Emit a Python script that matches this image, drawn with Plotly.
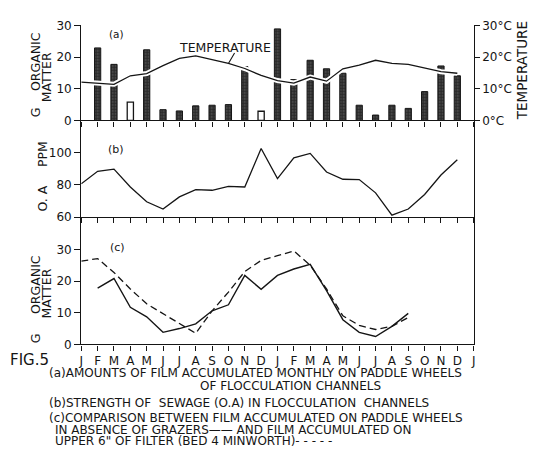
import plotly.graph_objects as go

W, H = 549, 459

# ---------------- data ----------------
months = ["J", "F", "M", "A", "M", "J", "J", "A", "S", "O", "N", "D",
          "J", "F", "M", "A", "M", "J", "J", "A", "S", "O", "N", "D", "J"]
month_idx = list(range(len(months)))

# (a) monthly film accumulated (g organic matter), Feb yr1 .. Dec yr2
bar_idx = list(range(1, 24))
bar_vals = [22.9, 17.7, 5.8, 22.3, 3.4, 3.0, 4.6, 4.8, 5.0, 17.0, 2.9,
            28.9, 12.9, 19.0, 16.3, 14.9, 4.8, 1.7, 4.8, 3.8, 9.1, 17.2, 14.1]
bar_open = [False, False, True, False, False, False, False, False, False, False, True,
            False, False, False, False, False, False, False, False, False, False, False, False]

# temperature (deg C), Jan yr1 .. Dec yr2
temp_idx = list(range(0, 24))
temps = [12.1, 11.7, 11.4, 14.1, 14.8, 17.3, 19.6, 20.4, 19.3, 18.0, 16.4, 14.2,
         12.6, 11.8, 13.7, 12.4, 16.3, 17.5, 19.0, 18.0, 17.7, 16.6, 15.4, 14.9]
temp_ticks = [0, 10, 20, 30]
temp_ticktext = ["0°C", "10°C", "20°C", "30°C"]

# (b) strength of sewage (O.A, ppm)
oa_idx = list(range(0, 24))
oa = [80.6, 88.3, 89.7, 78.6, 69.5, 65.0, 72.5, 77.0, 76.6, 79.0, 78.6, 102.4,
      83.8, 96.6, 99.4, 87.9, 83.4, 83.2, 75.0, 61.2, 65.0, 74.0, 86.0, 95.5]

# (c) paddle wheels without grazers (solid) and upper 6" of filter (dashed)
paddle_idx = list(range(1, 21))
paddle = [17.8, 20.8, 11.7, 8.7, 3.8, 5.0, 6.5, 10.6, 12.5, 21.8,
          17.4, 21.8, 23.8, 25.3, 17.0, 7.8, 3.8, 2.5, 5.7, 9.8]
filter_idx = list(range(0, 21))
filt = [26.3, 27.1, 22.7, 17.5, 12.8, 9.7, 6.5, 3.5, 10.6, 16.5, 23.0,
        26.5, 28.0, 29.5, 25.0, 17.5, 9.0, 6.0, 4.7, 5.7, 8.5]

# ---------------- figure ----------------
INK = "#151515"
FONT = "DejaVu Sans"

def px(x):
    return x / W

def py(y):
    return 1 - y / H

fig = go.Figure()

fill_x = [i for i, o in zip(bar_idx, bar_open) if not o]
fill_y = [v for v, o in zip(bar_vals, bar_open) if not o]
open_x = [i for i, o in zip(bar_idx, bar_open) if o]
open_y = [v for v, o in zip(bar_vals, bar_open) if o]

fig.add_trace(go.Bar(x=fill_x, y=fill_y, width=0.38, xaxis="x", yaxis="y",
                     marker=dict(color="#303030",
                                 line=dict(color=INK, width=1),
                                 pattern=dict(shape=".", bgcolor="#2a2a2a",
                                              fgcolor="#9a9a9a", size=3, solidity=0.25)),
                     showlegend=False))
fig.add_trace(go.Bar(x=open_x, y=open_y, width=0.38, xaxis="x", yaxis="y",
                     marker=dict(color="white", line=dict(color=INK, width=1.3)),
                     showlegend=False))
# temperature with white halo (breaks the bars where it crosses)
fig.add_trace(go.Scatter(x=temp_idx, y=temps, mode="lines", xaxis="x", yaxis="y2",
                         line=dict(color="white", width=5), showlegend=False,
                         hoverinfo="skip"))
fig.add_trace(go.Scatter(x=temp_idx, y=temps, mode="lines", xaxis="x", yaxis="y2",
                         line=dict(color=INK, width=1.3), showlegend=False))

fig.add_trace(go.Scatter(x=oa_idx, y=oa, mode="lines", xaxis="x2", yaxis="y3",
                         line=dict(color=INK, width=1.3), showlegend=False))

fig.add_trace(go.Scatter(x=filter_idx, y=filt, mode="lines", xaxis="x3", yaxis="y4",
                         line=dict(color=INK, width=1.3, dash="7px,4px"), showlegend=False))
fig.add_trace(go.Scatter(x=paddle_idx, y=paddle, mode="lines", xaxis="x3", yaxis="y4",
                         line=dict(color=INK, width=1.4), showlegend=False))

xdom = [px(79), px(475)]
axis_common = dict(showline=True, linecolor=INK, linewidth=1.3, ticks="outside",
                   tickcolor=INK, tickwidth=1.2, showgrid=False, zeroline=False,
                   tickfont=dict(family=FONT, size=12, color=INK))

xa = dict(axis_common, domain=xdom, range=[0, 24], tickvals=month_idx, ticklen=5)

fig.update_layout(
    width=W, height=H, margin=dict(l=0, r=0, t=0, b=0),
    paper_bgcolor="white", plot_bgcolor="white", barmode="overlay",
    font=dict(family=FONT, color=INK),
    xaxis=dict(xa, anchor="y", showticklabels=False),
    xaxis2=dict(xa, anchor="y3", showticklabels=False),
    xaxis3=dict(xa, anchor="y4", ticktext=months, showticklabels=True),
    yaxis=dict(axis_common, domain=[py(117), py(19)], range=[0, 30],
               tickvals=[0, 10, 20, 30], ticklen=6, anchor="x"),
    yaxis2=dict(axis_common, overlaying="y", side="right", anchor="x", range=[0, 30],
                tickvals=temp_ticks, ticktext=temp_ticktext, ticklen=5,
                tickfont=dict(family=FONT, size=12, color=INK)),
    yaxis3=dict(axis_common, domain=[py(216.7), py(117)], range=[60, 119.8],
                tickvals=[60, 80, 100], ticklen=6, anchor="x2", mirror=True),
    yaxis4=dict(axis_common, domain=[py(348), py(216.7)], range=[0, 40.2],
                tickvals=[0, 10, 20, 30], ticklen=6, anchor="x3", mirror=True),
)

def note(text, x, y, size=12.5, angle=0, xanchor="center"):
    fig.add_annotation(text=text, x=px(x), y=py(y), xref="paper", yref="paper",
                       showarrow=False, textangle=angle, xanchor=xanchor, yanchor="middle",
                       font=dict(family=FONT, size=size, color=INK))

# axis titles
note("ORGANIC", 33, 56, angle=-90)
note("MATTER", 44, 73, angle=-90)
note("G", 33, 109, angle=-90)
note("TEMPERATURE", 524, 66, size=13.5, angle=-90)
note("PPM", 40, 152, angle=-90)
note("O. A", 40, 198, angle=-90)
note("ORGANIC", 33, 286, angle=-90)
note("MATTER", 44, 296, angle=-90)
note("G", 33, 342, angle=-90)

# panel labels
note("(a)", 115, 28, size=10.5)
note("(b)", 114, 147, size=11)
note("(c)", 116, 248, size=11)

# temperature label with leader
note("TEMPERATURE", 224, 42, size=12.5)
fig.add_annotation(x=temp_idx[9], y=temps[9], xref="x", yref="y2", text="",
                   showarrow=True, arrowhead=0, arrowwidth=1.1, arrowcolor=INK,
                   ax=7, ay=-12)

# figure caption
CAP = 12
note("FIG.5", 27, 364, size=15)
note("(a)AMOUNTS OF FILM ACCUMULATED MONTHLY ON PADDLE WHEELS", 44, 378, size=CAP, xanchor="left")
note("OF FLOCCULATION CHANNELS", 290, 391, size=CAP)
note("(b)STRENGTH OF  SEWAGE (O.A) IN FLOCCULATION  CHANNELS", 44, 408, size=CAP, xanchor="left")
note("(c)COMPARISON BETWEEN FILM ACCUMULATED ON PADDLE WHEELS", 44, 424, size=CAP, xanchor="left")
note("IN ABSENCE OF GRAZERS\u2014\u2014 AND FILM ACCUMULATED ON", 50, 436, size=CAP, xanchor="left")
note("UPPER 6\" OF FILTER (BED 4 MINWORTH)- - - - -", 50, 448, size=CAP, xanchor="left")

fig.write_html("out.html")
